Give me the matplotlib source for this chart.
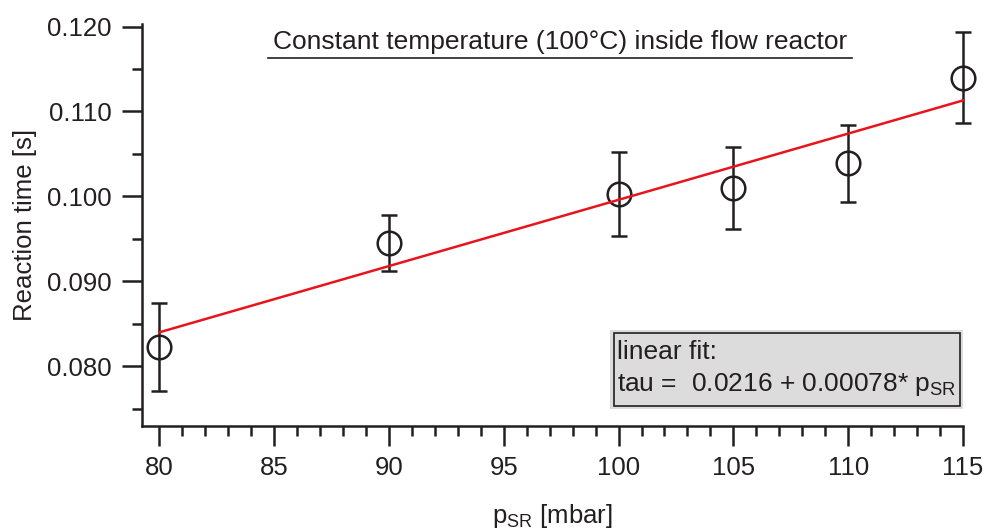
import matplotlib
matplotlib.use("Agg")
import matplotlib.pyplot as plt
import numpy as np
from matplotlib.patches import Rectangle
from matplotlib.lines import Line2D
from matplotlib.ticker import MultipleLocator, FormatStrFormatter

plt.rcParams['font.family'] = ['Liberation Sans', 'DejaVu Sans']
plt.rcParams['mathtext.fontset'] = 'custom'
plt.rcParams['mathtext.rm'] = 'Liberation Sans'

pressure = np.array([80, 90, 100, 105, 110, 115])
tau = np.array([0.0823, 0.0945, 0.1003, 0.1010, 0.1039, 0.1140])
tau_err = np.array([0.0052, 0.0033, 0.0049, 0.0048, 0.0045, 0.0053])

fit_a = 0.0216
fit_b = 0.00078

INK = '#231f20'
W, H = 988, 531


def px(x, y):
    # pixel (from top-left) -> figure fraction
    return x / W, 1 - y / H


def main():
    fig = plt.figure(figsize=(W / 100, H / 100), dpi=100)
    l, b = px(141.7, 425.7)
    r, t = px(963, 24)
    ax = fig.add_axes([l, b, r - l, t - b])

    x_fit = np.array([pressure.min(), pressure.max()])
    ax.plot(x_fit, fit_a + fit_b * x_fit, color='#e8141c', lw=1.8, zorder=4, clip_on=False)
    eb = ax.errorbar(pressure, tau, yerr=tau_err, fmt='o', color=INK, mfc='none',
                     mec=INK, ms=17, mew=1.8, elinewidth=1.8, capsize=5.5, capthick=1.8,
                     zorder=3)
    for art in eb.get_children():
        art.set_clip_on(False)

    ax.set_xlim(79.235, 115)
    ax.set_ylim(0.07301, 0.1203)
    for s in ['top', 'right']:
        ax.spines[s].set_visible(False)
    for s in ['left', 'bottom']:
        ax.spines[s].set_linewidth(1.8)
        ax.spines[s].set_color(INK)

    ax.xaxis.set_major_locator(MultipleLocator(5))
    ax.xaxis.set_minor_locator(MultipleLocator(1))
    ax.yaxis.set_major_locator(MultipleLocator(0.01))
    ax.yaxis.set_minor_locator(MultipleLocator(0.005))
    ax.yaxis.set_major_formatter(FormatStrFormatter('%.3f'))
    ax.tick_params(which='major', length=14.5, width=1.8, color=INK, labelsize=18.5,
                   labelcolor=INK, pad=7)
    ax.tick_params(which='minor', length=7.5, width=1.8, color=INK)

    ax.set_xlabel(r'p$_{\mathregular{SR}}$ [mbar]', fontsize=18.5, color=INK, labelpad=16)
    ax.set_ylabel('Reaction time [s]', fontsize=18.5, color=INK, labelpad=7)

    # header with underline
    fig.text(*px(560, 42), 'Constant temperature (100°C) inside flow reactor',
             ha='center', va='center', fontsize=19, color=INK)
    x0, y0 = px(268, 58)
    x1, _ = px(852, 58)
    fig.add_artist(Line2D([x0, x1], [y0, y0], color=INK, lw=1.2))

    # fit box
    gx0, gy0 = px(610, 409)
    gx1, gy1 = px(963, 330)
    fig.add_artist(Rectangle((gx0, gy0), gx1 - gx0, gy1 - gy0, facecolor='#dcdcdc',
                             edgecolor='none', transform=fig.transFigure))
    bx0, by0 = px(614, 406)
    bx1, by1 = px(960, 333)
    fig.add_artist(Rectangle((bx0, by0), bx1 - bx0, by1 - by0, facecolor='none',
                             edgecolor=INK, lw=1.2, transform=fig.transFigure))
    fig.text(*px(617, 352), 'linear fit:', ha='left', va='center', fontsize=19, color=INK)
    fig.text(*px(617, 384), r'tau =  0.0216 + 0.00078* p$_{\mathregular{SR}}$',
             ha='left', va='center', fontsize=19, color=INK)

    fig.savefig('out.png', dpi=100)


if __name__ == '__main__':
    main()
